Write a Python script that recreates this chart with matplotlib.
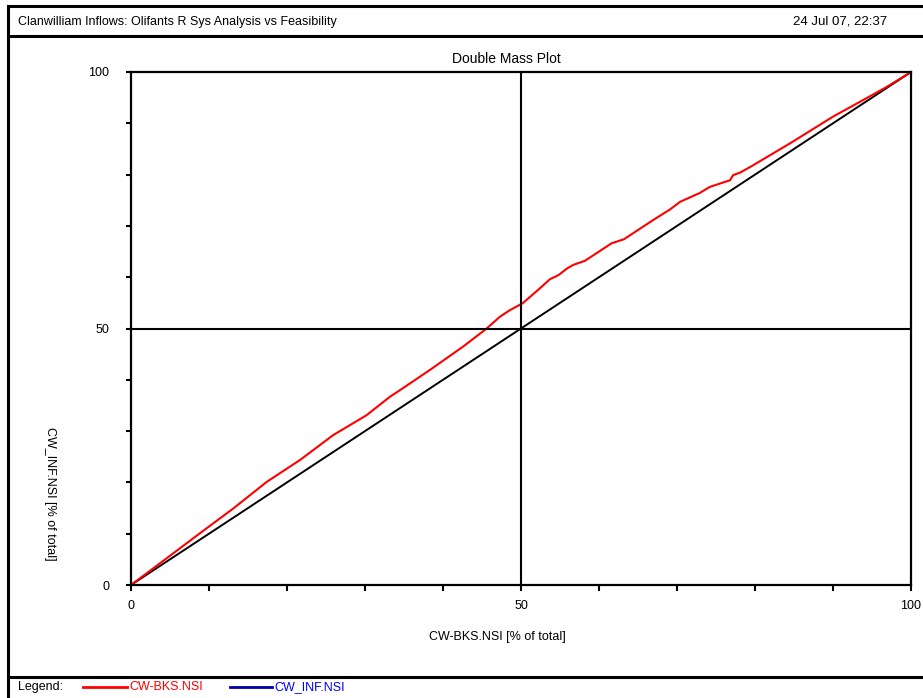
import matplotlib
matplotlib.use("Agg")
import matplotlib.pyplot as plt
from matplotlib.lines import Line2D

plt.rcParams['font.family'] = ['Liberation Sans', 'DejaVu Sans']

# red series: % of total
bks_pct = [0, 4.3, 8.85, 13.1, 17.4, 21.7, 25.9, 30.2, 33.2, 34.5, 38.3, 42.6, 45.6, 47.3,
           48.6, 50.2, 52.4, 53.7, 54.8, 55.9, 56.7, 58.2, 59.7, 61.6, 63.2, 65.3, 67.0,
           69.1, 70.4, 72.9, 74.2, 76.8, 77.2, 78.1, 79.4, 84.5, 90.0, 94.3, 96.9, 100]
inf_pct = [0, 4.9, 10.1, 14.9, 20.1, 24.4, 29.2, 33.1, 36.7, 38.0, 41.9, 46.5, 50.0, 52.3,
           53.6, 54.9, 57.8, 59.6, 60.4, 61.7, 62.4, 63.2, 64.7, 66.6, 67.4, 69.5, 71.2,
           73.2, 74.7, 76.4, 77.6, 78.9, 79.9, 80.4, 81.5, 86.1, 91.3, 94.9, 97.1, 100]
diag = [0, 100]
ticks = list(range(0, 101, 10))
tick_labels = ["0", "", "", "", "", "50", "", "", "", "", "100"]

W, H = 923, 698
fig = plt.figure(figsize=(W / 100, H / 100), dpi=100)

def px(x, y):
    return x / W, 1 - y / H

# outer frame lines
for (x0, y0, x1, y1) in [(8, 6, 923, 6), (8, 6, 8, 698), (8, 36, 923, 36), (8, 677, 923, 677)]:
    a, b = px(x0, y0)
    c, d = px(x1, y1)
    fig.add_artist(Line2D([a, c], [b, d], color="black", lw=2.2, transform=fig.transFigure))

fs = 9
fig.text(*px(18, 22), "Clanwilliam Inflows: Olifants R Sys Analysis vs Feasibility", fontsize=fs, va="center")
fig.text(*px(793, 22), "24 Jul 07, 22:37", fontsize=fs + 0.5, va="center")

l, r, t, btm = 131 / W, 911 / W, 1 - 72 / H, 1 - 585 / H
ax = fig.add_axes([l, btm, r - l, t - btm])
ax.plot(diag, diag, color="black", lw=1.4)
ax.plot(bks_pct, inf_pct, color="red", lw=1.5)
ax.axhline(50, color="black", lw=1.5)
ax.axvline(50, color="black", lw=1.5)
ax.set_xlim(0, 100)
ax.set_ylim(0, 100)
ax.set_xticks(ticks)
ax.set_xticklabels(tick_labels)
ax.set_yticks(ticks)
ax.set_yticklabels(tick_labels)
ax.tick_params(axis="x", length=4.5, width=1.5, labelsize=fs, pad=6.5)
ax.tick_params(axis="y", length=3.6, width=1.5, labelsize=fs, pad=12)
for s in ax.spines.values():
    s.set_linewidth(1.6)

fig.text(*px(506, 59), "Double Mass Plot", fontsize=fs + 1, ha="center", va="center")
fig.text(*px(497, 637), "CW-BKS.NSI [% of total]", fontsize=fs, ha="center", va="center")
fig.text(*px(50, 494), "CW_INF.NSI [% of total]", fontsize=fs, ha="center", va="center", rotation=270)

# legend strip
fig.text(*px(18, 687), "Legend:", fontsize=fs, va="center")
for x0, x1, col, tx, lab in [(83, 127, "red", 129, "CW-BKS.NSI"), (230, 272, "#0000aa", 274, "CW_INF.NSI")]:
    a, b = px(x0, 687)
    c, _ = px(x1, 687)
    fig.add_artist(Line2D([a, c], [b, b], color=col, lw=2, transform=fig.transFigure))
    fig.text(*px(tx, 687), lab, fontsize=fs, va="center", color="red" if col == "red" else "blue")

fig.savefig("out.png", dpi=100)
